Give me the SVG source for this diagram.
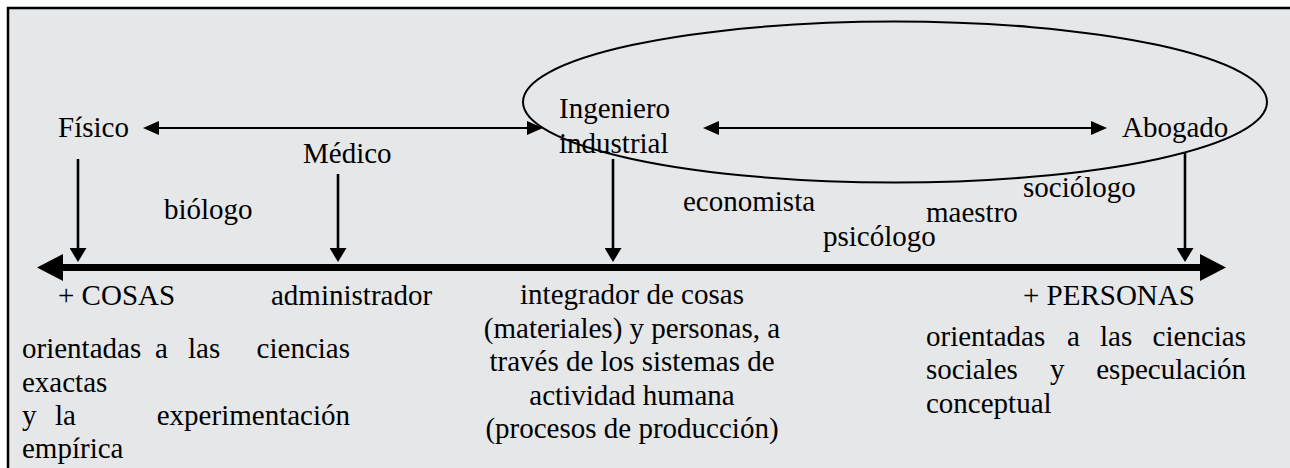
<svg xmlns="http://www.w3.org/2000/svg" width="1290" height="468" viewBox="0 0 1290 468">
<defs>
<style>
text{font-family:"Liberation Serif","Times New Roman",serif;font-size:29px;fill:#000}
.c{text-anchor:middle}
.e{text-anchor:end}
.thin{stroke:#000;stroke-width:2;fill:none}
.vert{stroke:#000;stroke-width:2.6;fill:none}
.axis{stroke:#000;stroke-width:7;fill:none}
</style>
<marker id="hh" markerUnits="userSpaceOnUse" markerWidth="16" markerHeight="14" refX="12" refY="7" orient="auto-start-reverse" viewBox="0 0 16 14"><path d="M0,0 L16,7 L0,14 z" fill="#000"/></marker>
<marker id="hv" markerUnits="userSpaceOnUse" markerWidth="14" markerHeight="17" refX="10" refY="8.5" orient="auto" viewBox="0 0 14 17"><path d="M0,0 L14,8.5 L0,17 z" fill="#000"/></marker>
<marker id="hb" markerUnits="userSpaceOnUse" markerWidth="26" markerHeight="27" refX="18" refY="13.5" orient="auto-start-reverse" viewBox="0 0 26 27"><path d="M0,0 L26,13.5 L0,27 z" fill="#000"/></marker>
</defs>
<rect x="0" y="0" width="1290" height="468" fill="#fff"/>
<rect id="frame" x="8" y="8" width="1300" height="480" fill="#e6e7e9" stroke="#000" stroke-width="2.5"/>
<ellipse id="grupo" cx="895" cy="102" rx="372" ry="80.5" fill="none" stroke="#000" stroke-width="2"/>
<g id="connectors">
<line class="axis" x1="45" y1="267.5" x2="1218" y2="267.5" marker-start="url(#hb)" marker-end="url(#hb)"/>
<line class="thin" x1="147" y1="128" x2="539" y2="128" marker-start="url(#hh)" marker-end="url(#hh)"/>
<line class="thin" x1="707" y1="128" x2="1103" y2="128" marker-start="url(#hh)" marker-end="url(#hh)"/>
<line class="vert" x1="78" y1="159" x2="78" y2="258" marker-end="url(#hv)"/>
<line class="vert" x1="338" y1="174" x2="338" y2="258" marker-end="url(#hv)"/>
<line class="vert" x1="613" y1="159" x2="613" y2="258" marker-end="url(#hv)"/>
<line class="vert" x1="1185" y1="152" x2="1185" y2="258" marker-end="url(#hv)"/>
</g>
<g id="fisico"><text x="58" y="137">Físico</text></g>
<g id="medico"><text x="303" y="163">Médico</text></g>
<g id="biologo"><text x="164" y="219">biólogo</text></g>
<g id="ingeniero"><text x="559" y="118">Ingeniero</text><text x="559" y="153">industrial</text></g>
<g id="abogado"><text x="1122" y="137">Abogado</text></g>
<g id="economista"><text x="683" y="211">economista</text></g>
<g id="sociologo"><text x="1023" y="197">sociólogo</text></g>
<g id="maestro"><text x="926" y="222">maestro</text></g>
<g id="psicologo"><text x="823" y="246">psicólogo</text></g>
<g id="administrador"><text x="271" y="305">administrador</text></g>
<g id="cosas">
<text x="58" y="305">+ COSAS</text>
<text y="358"><tspan x="22">orientadas</tspan><tspan x="155">a</tspan><tspan x="188">las</tspan><tspan x="350" text-anchor="end">ciencias</tspan></text>
<text x="22" y="392">exactas</text>
<text y="425"><tspan x="22">y</tspan><tspan x="55">la</tspan><tspan x="350" text-anchor="end">experimentación</tspan></text>
<text x="22" y="458">empírica</text>
</g>
<g id="integrador">
<text class="c" x="632" y="304">integrador de cosas</text>
<text class="c" x="632" y="337.5">(materiales) y personas, a</text>
<text class="c" x="632" y="371">través de los sistemas de</text>
<text class="c" x="632" y="404.5">actividad humana</text>
<text class="c" x="632" y="438">(procesos de producción)</text>
</g>
<g id="personas">
<text x="1023" y="305">+ PERSONAS</text>
<text y="346"><tspan x="926">orientadas</tspan><tspan x="1067">a</tspan><tspan x="1100">las</tspan><tspan x="1246" text-anchor="end">ciencias</tspan></text>
<text y="379"><tspan x="926">sociales</tspan><tspan x="1050">y</tspan><tspan x="1246" text-anchor="end">especulación</tspan></text>
<text x="926" y="413">conceptual</text>
</g>
</svg>
